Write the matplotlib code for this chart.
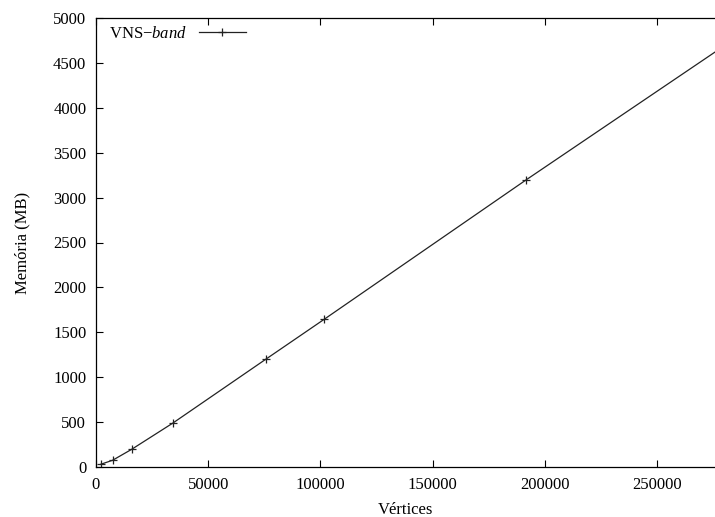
import matplotlib
matplotlib.use("Agg")
import matplotlib.pyplot as plt

plt.rcParams['font.family'] = ['Liberation Serif', 'DejaVu Serif']
plt.rcParams['mathtext.fontset'] = 'custom'
plt.rcParams['mathtext.rm'] = 'Liberation Serif'
plt.rcParams['mathtext.it'] = 'Liberation Serif:italic'

# data (last point lies past the visible x range)
vertices = [2100, 7400, 15900, 34300, 75600, 101700, 191600, 300000]
memoria_mb = [30, 75, 197, 490, 1199, 1645, 3196, 5029]

x_ticks = [0, 50000, 100000, 150000, 200000, 250000]
y_ticks = [0, 500, 1000, 1500, 2000, 2500, 3000, 3500, 4000, 4500, 5000]

fs = 12

fig = plt.figure(figsize=(7.15, 5.17), dpi=100)
ax = fig.add_axes([96 / 715, 50 / 517, 619 / 715, 449 / 517])

ax.plot(vertices, memoria_mb, color='#222222', linewidth=0.9,
        marker='+', markersize=6, markeredgewidth=0.9,
        label=r'VNS$-\mathit{band}$')

ax.set_xlim(0, 275850)
ax.set_ylim(0, 5000)
ax.set_xticks(x_ticks)
ax.set_yticks(y_ticks)
ax.tick_params(direction='in', top=True, right=False, length=5, width=0.8,
               labelsize=fs, pad=7)
ax.spines['right'].set_visible(False)
for s in ['left', 'bottom', 'top']:
    ax.spines[s].set_linewidth(0.9)

ax.set_xlabel('Vértices', fontsize=fs, labelpad=7)
ax.set_ylabel('Memória (MB)', fontsize=fs, labelpad=16)

ax.legend(loc='upper left', bbox_to_anchor=(0.0, 1.012), frameon=False,
          markerfirst=False, fontsize=fs, handlelength=2.8,
          borderaxespad=0.4, handletextpad=0.7)

fig.savefig('out.png', dpi=100)
